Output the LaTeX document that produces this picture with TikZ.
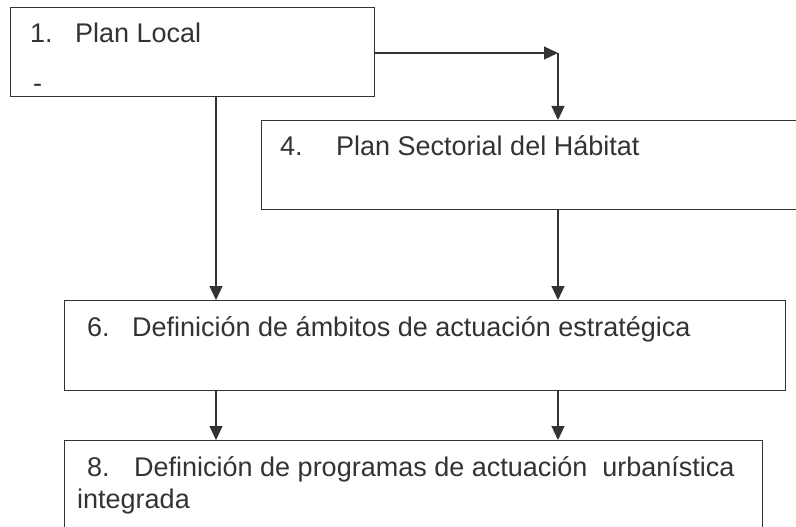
\documentclass[tikz,border=0pt]{standalone}
\usepackage{fontspec}
\setmainfont{Liberation Sans}
\usetikzlibrary{arrows.meta}
\definecolor{ink}{HTML}{333333}
\begin{document}
\begin{tikzpicture}[x=1pt,y=-1pt,
  box/.style={draw=ink,line width=1.1pt,anchor=north west,inner sep=0pt},
  lbl/.style={anchor=base west,inner sep=0pt,text=ink,font=\fontsize{27}{31}\selectfont},
  arr/.style={draw=ink,line width=1.1pt,-{Triangle[length=14pt,width=13pt]}}]
\useasboundingbox (0,0) rectangle (796,527);
\clip (0,0) rectangle (796,527);
\fill[white] (0,0) rectangle (796,527);
% boxes
\node[box,minimum width=364pt,minimum height=89pt] (b1) at (10,7) {};
\node[box,minimum width=560pt,minimum height=89pt] (b4) at (261,120) {};
\node[box,minimum width=721pt,minimum height=90pt] (b6) at (64,300) {};
\node[box,minimum width=698pt,minimum height=120pt] (b8) at (64,440) {};
% texts
\node[lbl] (n1) at (30,43) {1.};
\node[lbl] (t1) at (75,43) {Plan Local};
\node[lbl] (d1) at (33,93) {-};
\node[lbl] (n4) at (280,155) {4.};
\node[lbl] (t4) at (336,155) {Plan Sectorial del Hábitat};
\node[lbl] (n6) at (87,336) {6.};
\node[lbl] (t6) at (132,336) {Definición de ámbitos de actuación estratégica};
\node[lbl] (n8) at (87,476) {8.};
\node[lbl] (t8) at (134,476) {Definición de programas de actuación\ \ urbanística};
\node[lbl] (t8b) at (77,508) {integrada};
% connectors
\coordinate (c1) at (558,53);
\coordinate (x1) at (216,0);
\coordinate (x2) at (558,0);
\draw[arr] (b1.east |- c1) -- (c1);
\draw[arr] (c1) -- (c1 |- b4.north);
\draw[arr] (b1.south -| x1) -- (b6.north -| x1);
\draw[arr] (b4.south -| x2) -- (b6.north -| x2);
\draw[arr] (b6.south -| x1) -- (b8.north -| x1);
\draw[arr] (b6.south -| x2) -- (b8.north -| x2);
\end{tikzpicture}
\end{document}
